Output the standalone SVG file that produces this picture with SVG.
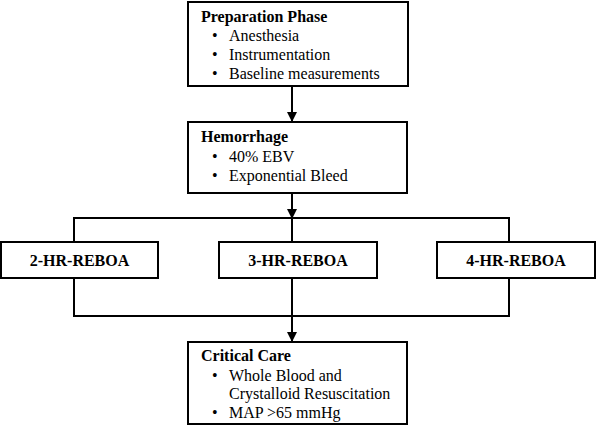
<svg xmlns="http://www.w3.org/2000/svg" width="596" height="426" viewBox="0 0 596 426">
<defs>
<style>
.box{fill:#fff;stroke:#000;stroke-width:2}
.ln{fill:none;stroke:#000;stroke-width:2}
text{font-family:"Liberation Serif","Times New Roman",serif;font-size:16px;fill:#000}
.h{font-weight:bold}
.c{text-anchor:middle}
</style>
<marker id="ah" markerWidth="10" markerHeight="10" refX="9" refY="5" orient="auto" markerUnits="userSpaceOnUse">
<path d="M0,0 L10,5 L0,10 Z" fill="#000"/>
</marker>
</defs>
<rect width="596" height="426" fill="#fff"/>
<g id="connectors">
<line class="ln" x1="292" y1="86" x2="292" y2="121" marker-end="url(#ah)"/>
<line class="ln" x1="292" y1="193" x2="292" y2="218" marker-end="url(#ah)"/>
<polyline class="ln" points="74,242 74,218 509,218 509,242"/>
<line class="ln" x1="292" y1="218" x2="292" y2="242"/>
<polyline class="ln" points="74,278 74,316 509,316 509,278"/>
<line class="ln" x1="292" y1="278" x2="292" y2="316"/>
<line class="ln" x1="292" y1="316" x2="292" y2="341" marker-end="url(#ah)"/>
</g>
<g id="prep">
<rect class="box" x="188" y="2" width="220" height="84"/>
<text class="h" x="201" y="22">Preparation Phase</text>
<text x="212" y="41">•</text><text x="229" y="41">Anesthesia</text>
<text x="212" y="60">•</text><text x="229" y="60">Instrumentation</text>
<text x="212" y="79">•</text><text x="229" y="79">Baseline measurements</text>
</g>
<g id="hemorrhage">
<rect class="box" x="188" y="122" width="219" height="71"/>
<text class="h" x="201" y="142">Hemorrhage</text>
<text x="212" y="162">•</text><text x="229" y="162">40% EBV</text>
<text x="212" y="181">•</text><text x="229" y="181">Exponential Bleed</text>
</g>
<g id="reboa2">
<rect class="box" x="1" y="242" width="157" height="36"/>
<text class="h c" x="79.5" y="266">2-HR-REBOA</text>
</g>
<g id="reboa3">
<rect class="box" x="219" y="242" width="158" height="36"/>
<text class="h c" x="298" y="266">3-HR-REBOA</text>
</g>
<g id="reboa4">
<rect class="box" x="437" y="242" width="158" height="36"/>
<text class="h c" x="516" y="266">4-HR-REBOA</text>
</g>
<g id="critical">
<rect class="box" x="188" y="342" width="219" height="82"/>
<text class="h" x="201" y="361">Critical Care</text>
<text x="212" y="381">•</text><text x="229" y="381">Whole Blood and</text>
<text x="229" y="399">Crystalloid Resuscitation</text>
<text x="212" y="418">•</text><text x="229" y="418">MAP &gt;65 mmHg</text>
</g>
</svg>
